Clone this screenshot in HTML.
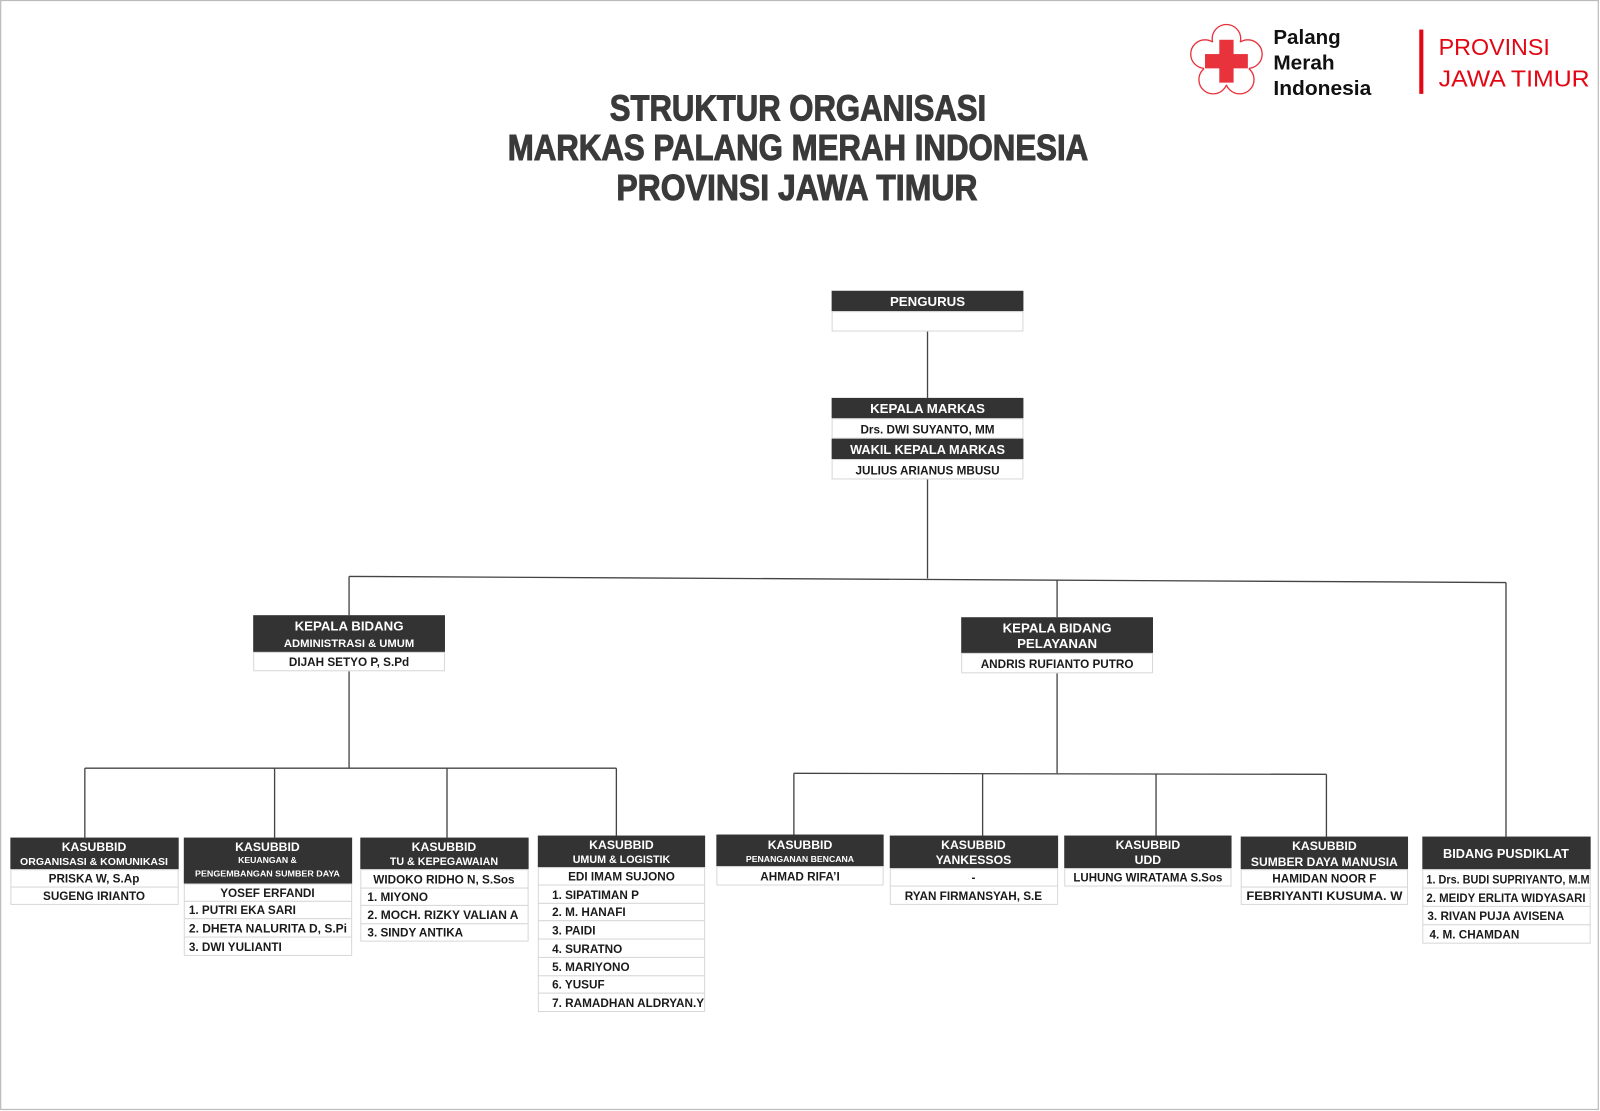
<!DOCTYPE html>
<html><head><meta charset="utf-8"><style>
html,body{margin:0;padding:0;background:#fff;}
svg{display:block;}
text{font-family:"Liberation Sans",sans-serif;font-weight:bold;}
.h{fill:#fff;text-anchor:middle;}
.n{fill:#1a1a1a;text-anchor:middle;font-size:11.5px;}
.l{fill:#1a1a1a;font-size:11.5px;}
.hd{fill:#333;}
.rw{fill:#fff;stroke:#d8d8d8;stroke-width:1;}
.ln{stroke:#444;stroke-width:1.3;fill:none;}
</style></head><body>
<svg width="1600" height="1111" viewBox="0 0 1568 1089" xmlns="http://www.w3.org/2000/svg">
<rect x="0.5" y="0.5" width="1566" height="1087" fill="#fff" stroke="#bbb" stroke-width="1.2"/>

<!-- logo -->
<g stroke="#e8323c" stroke-width="1.3" fill="#fff">
<circle cx="1202" cy="38" r="14"/>
<circle cx="1223" cy="53" r="14"/>
<circle cx="1215" cy="78" r="14"/>
<circle cx="1189" cy="78" r="14"/>
<circle cx="1181" cy="53" r="14"/>
</g>
<circle cx="1202" cy="60" r="23" fill="#fff"/>
<rect x="1195" y="39" width="14" height="42" fill="#e8323c"/>
<rect x="1181" y="53" width="42" height="14" fill="#e8323c"/>
<text x="1248" y="43" font-size="20" fill="#111" textLength="66" lengthAdjust="spacingAndGlyphs">Palang</text>
<text x="1248" y="68" font-size="20" fill="#111" textLength="60" lengthAdjust="spacingAndGlyphs">Merah</text>
<text x="1248" y="93" font-size="20" fill="#111" textLength="96" lengthAdjust="spacingAndGlyphs">Indonesia</text>
<rect x="1391" y="29" width="4" height="63" fill="#e30613"/>
<text x="1410" y="54" font-size="23" fill="#e30613" style="font-weight:normal" textLength="109" lengthAdjust="spacingAndGlyphs">PROVINSI</text>
<text x="1410" y="85" font-size="23" fill="#e30613" style="font-weight:normal" textLength="148" lengthAdjust="spacingAndGlyphs">JAWA TIMUR</text>

<!-- title -->
<g fill="#3a3a3a" stroke="#3a3a3a" stroke-width="1" font-size="35" text-anchor="middle">
<text x="782" y="118" textLength="369" lengthAdjust="spacingAndGlyphs">STRUKTUR ORGANISASI</text>
<text x="782" y="157" textLength="569" lengthAdjust="spacingAndGlyphs">MARKAS PALANG MERAH INDONESIA</text>
<text x="781" y="196" textLength="354" lengthAdjust="spacingAndGlyphs">PROVINSI JAWA TIMUR</text>
</g>

<!-- connectors -->
<g class="ln">
<line x1="909" y1="325" x2="909" y2="390"/>
<line x1="909" y1="470" x2="909" y2="567"/>
<line x1="342" y1="565" x2="1476" y2="571"/>
<line x1="342" y1="565" x2="342" y2="603"/>
<line x1="1036" y1="568" x2="1036" y2="605"/>
<line x1="1476" y1="571" x2="1476" y2="820"/>
<line x1="342" y1="658" x2="342" y2="753"/>
<line x1="83" y1="753" x2="604" y2="753"/>
<line x1="83" y1="753" x2="83" y2="821"/>
<line x1="269" y1="753" x2="269" y2="821"/>
<line x1="438" y1="753" x2="438" y2="821"/>
<line x1="604" y1="753" x2="604" y2="819"/>
<line x1="1036" y1="660" x2="1036" y2="758"/>
<line x1="778" y1="758" x2="1300" y2="759"/>
<line x1="778" y1="758" x2="778" y2="818"/>
<line x1="963" y1="758" x2="963" y2="819"/>
<line x1="1133" y1="759" x2="1133" y2="819"/>
<line x1="1300" y1="759" x2="1300" y2="820"/>
</g>

<!-- PENGURUS -->
<rect class="hd" x="815" y="285" width="188" height="20"/>
<text class="h" x="909" y="300" font-size="13">PENGURUS</text>
<rect class="rw" x="815.5" y="305.5" width="187" height="19"/>

<!-- KEPALA MARKAS -->
<rect class="hd" x="815" y="390" width="188" height="20"/>
<text class="h" x="909" y="405" font-size="13">KEPALA MARKAS</text>
<rect class="rw" x="815.5" y="410.5" width="187" height="19"/>
<text class="n" x="909" y="425" font-size="11.5">Drs. DWI SUYANTO, MM</text>
<rect class="hd" x="815" y="430" width="188" height="20"/>
<text class="h" x="909" y="445" font-size="12.5">WAKIL KEPALA MARKAS</text>
<rect class="rw" x="815.5" y="450.5" width="187" height="19"/>
<text class="n" x="909" y="465">JULIUS ARIANUS MBUSU</text>

<!-- KABID ADMIN -->
<rect class="hd" x="248" y="603" width="188" height="36"/>
<text class="h" x="342" y="618" font-size="13">KEPALA BIDANG</text>
<text class="h" x="342" y="634" font-size="11">ADMINISTRASI &amp; UMUM</text>
<rect class="rw" x="248.5" y="639.5" width="187" height="18"/>
<text class="n" x="342" y="653">DIJAH SETYO P, S.Pd</text>

<!-- KABID PELAYANAN -->
<rect class="hd" x="942" y="605" width="188" height="35"/>
<text class="h" x="1036" y="620" font-size="13">KEPALA BIDANG</text>
<text class="h" x="1036" y="635" font-size="13">PELAYANAN</text>
<rect class="rw" x="942.5" y="640.5" width="187" height="19"/>
<text class="n" x="1036" y="655">ANDRIS RUFIANTO PUTRO</text>

<!-- 1 ORGANISASI -->
<rect class="hd" x="10" y="821" width="165" height="31"/>
<text class="h" x="92" y="834" font-size="12">KASUBBID</text>
<text class="h" x="92" y="848" font-size="10" textLength="145" lengthAdjust="spacingAndGlyphs">ORGANISASI &amp; KOMUNIKASI</text>
<rect class="rw" x="10.5" y="852.5" width="164" height="17"/>
<text class="n" x="92" y="865">PRISKA W, S.Ap</text>
<rect class="rw" x="10.5" y="869.5" width="164" height="17"/>
<text class="n" x="92" y="882">SUGENG IRIANTO</text>

<!-- 2 KEUANGAN -->
<rect class="hd" x="180" y="821" width="165" height="45"/>
<text class="h" x="262" y="834" font-size="12">KASUBBID</text>
<text class="h" x="262" y="846" font-size="8.5">KEUANGAN &amp;</text>
<text class="h" x="262" y="859" font-size="8.5" textLength="142" lengthAdjust="spacingAndGlyphs">PENGEMBANGAN SUMBER DAYA</text>
<rect class="rw" x="180.5" y="866.5" width="164" height="17"/>
<text class="n" x="262" y="879">YOSEF ERFANDI</text>
<rect class="rw" x="180.5" y="883.5" width="164" height="17"/>
<text class="l" x="185" y="896">1. PUTRI EKA SARI</text>
<rect class="rw" x="180.5" y="900.5" width="164" height="18"/>
<text class="l" x="185" y="914" textLength="155" lengthAdjust="spacingAndGlyphs">2. DHETA NALURITA D, S.Pi</text>
<rect class="rw" x="180.5" y="918.5" width="164" height="18"/>
<text class="l" x="185" y="932">3. DWI YULIANTI</text>

<!-- 3 TU -->
<rect class="hd" x="353" y="821" width="165" height="31"/>
<text class="h" x="435" y="834" font-size="12">KASUBBID</text>
<text class="h" x="435" y="848" font-size="10.5">TU &amp; KEPEGAWAIAN</text>
<rect class="rw" x="353.5" y="852.5" width="164" height="18"/>
<text class="n" x="435" y="866">WIDOKO RIDHO N, S.Sos</text>
<rect class="rw" x="353.5" y="870.5" width="164" height="17"/>
<text class="l" x="360" y="883">1. MIYONO</text>
<rect class="rw" x="353.5" y="887.5" width="164" height="18"/>
<text class="l" x="360" y="901" textLength="148" lengthAdjust="spacingAndGlyphs">2. MOCH. RIZKY VALIAN A</text>
<rect class="rw" x="353.5" y="905.5" width="164" height="17"/>
<text class="l" x="360" y="918">3. SINDY ANTIKA</text>

<!-- 4 UMUM -->
<rect class="hd" x="527" y="819" width="164" height="31"/>
<text class="h" x="609" y="832" font-size="12">KASUBBID</text>
<text class="h" x="609" y="846" font-size="10.5">UMUM &amp; LOGISTIK</text>
<rect class="rw" x="527.5" y="850.5" width="163" height="17"/>
<text class="n" x="609" y="863">EDI IMAM SUJONO</text>
<rect class="rw" x="527.5" y="867.5" width="163" height="18"/>
<text class="l" x="541" y="881">1. SIPATIMAN P</text>
<rect class="rw" x="527.5" y="885.5" width="163" height="17"/>
<text class="l" x="541" y="898">2. M. HANAFI</text>
<rect class="rw" x="527.5" y="902.5" width="163" height="18"/>
<text class="l" x="541" y="916">3. PAIDI</text>
<rect class="rw" x="527.5" y="920.5" width="163" height="18"/>
<text class="l" x="541" y="934">4. SURATNO</text>
<rect class="rw" x="527.5" y="938.5" width="163" height="18"/>
<text class="l" x="541" y="952">5. MARIYONO</text>
<rect class="rw" x="527.5" y="956.5" width="163" height="17"/>
<text class="l" x="541" y="969">6. YUSUF</text>
<rect class="rw" x="527.5" y="973.5" width="163" height="18"/>
<text class="l" x="541" y="987" textLength="149" lengthAdjust="spacingAndGlyphs">7. RAMADHAN ALDRYAN.Y</text>

<!-- 5 BENCANA -->
<rect class="hd" x="702" y="818" width="164" height="31"/>
<text class="h" x="784" y="832" font-size="12">KASUBBID</text>
<text class="h" x="784" y="845" font-size="8" textLength="106" lengthAdjust="spacingAndGlyphs">PENANGANAN BENCANA</text>
<rect class="rw" x="702.5" y="849.5" width="163" height="18"/>
<text class="n" x="784" y="863">AHMAD RIFA’I</text>

<!-- 6 YANKESSOS -->
<rect class="hd" x="872" y="819" width="165" height="32"/>
<text class="h" x="954" y="832" font-size="12">KASUBBID</text>
<text class="h" x="954" y="847" font-size="12">YANKESSOS</text>
<rect class="rw" x="872.5" y="851.5" width="164" height="17"/>
<text class="n" x="954" y="864">-</text>
<rect class="rw" x="872.5" y="868.5" width="164" height="18"/>
<text class="n" x="954" y="882">RYAN FIRMANSYAH, S.E</text>

<!-- 7 UDD -->
<rect class="hd" x="1043" y="819" width="164" height="32"/>
<text class="h" x="1125" y="832" font-size="12">KASUBBID</text>
<text class="h" x="1125" y="847" font-size="12">UDD</text>
<rect class="rw" x="1043.5" y="851.5" width="163" height="17"/>
<text class="n" x="1125" y="864" textLength="146" lengthAdjust="spacingAndGlyphs">LUHUNG WIRATAMA S.Sos</text>

<!-- 8 SDM -->
<rect class="hd" x="1216" y="820" width="164" height="32"/>
<text class="h" x="1298" y="833" font-size="12">KASUBBID</text>
<text class="h" x="1298" y="849" font-size="12" textLength="144" lengthAdjust="spacingAndGlyphs">SUMBER DAYA MANUSIA</text>
<rect class="rw" x="1216.5" y="852.5" width="163" height="17"/>
<text class="n" x="1298" y="865">HAMIDAN NOOR F</text>
<rect class="rw" x="1216.5" y="869.5" width="163" height="17"/>
<text class="n" x="1298" y="882" textLength="153" lengthAdjust="spacingAndGlyphs">FEBRIYANTI KUSUMA. W</text>

<!-- 9 PUSDIKLAT -->
<rect class="hd" x="1394" y="820" width="165" height="32"/>
<text class="h" x="1476" y="841" font-size="12.5">BIDANG PUSDIKLAT</text>
<rect class="rw" x="1394.5" y="852.5" width="164" height="18"/>
<text class="l" x="1398" y="866" font-size="10" textLength="160" lengthAdjust="spacingAndGlyphs">1. Drs. BUDI SUPRIYANTO, M.M</text>
<rect class="rw" x="1394.5" y="870.5" width="164" height="18"/>
<text class="l" x="1398" y="884" font-size="10" textLength="156" lengthAdjust="spacingAndGlyphs">2. MEIDY ERLITA WIDYASARI</text>
<rect class="rw" x="1394.5" y="888.5" width="164" height="18"/>
<text class="l" x="1399" y="902" font-size="10">3. RIVAN PUJA AVISENA</text>
<rect class="rw" x="1394.5" y="906.5" width="164" height="18"/>
<text class="l" x="1401" y="920" font-size="10.5">4. M. CHAMDAN</text>
</svg>
</body></html>
